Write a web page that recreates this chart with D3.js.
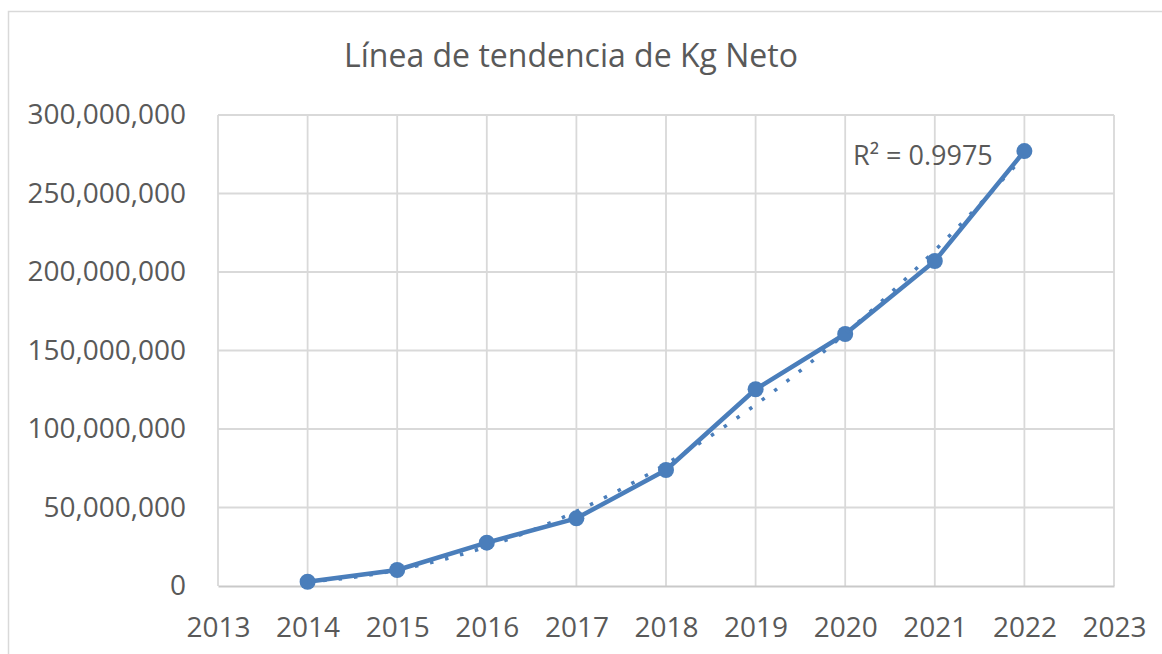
<!DOCTYPE html>
<html>
<head>
<meta charset="utf-8">
<script src="https://cdn.jsdelivr.net/npm/d3@7"></script>
<style>
  html, body { margin: 0; padding: 0; background: #ffffff; }
  svg { display: block; }
  text { font-family: "Open Sans", "Noto Sans", sans-serif; fill: #595959; }
</style>
</head>
<body>
<svg id="chart" width="1162" height="654"></svg>
<script>
// ---- data ----
const years = [2014, 2015, 2016, 2017, 2018, 2019, 2020, 2021, 2022];
const kgNeto = [2700000, 10200000, 27600000, 43100000, 73900000, 125300000, 160500000, 207000000, 277000000];
const yTicks = [0, 50000000, 100000000, 150000000, 200000000, 250000000, 300000000];
const xTicks = [2013, 2014, 2015, 2016, 2017, 2018, 2019, 2020, 2021, 2022, 2023];
const chartTitle = "Línea de tendencia de Kg Neto";
const r2Label = "R² = 0.9975";

// ---- layout ----
const svg = d3.select("#chart");
const blue = "#4a7ebb";
const x = d3.scaleLinear().domain([2013, 2023]).range([218, 1114]);
const y = d3.scaleLinear().domain([0, 300000000]).range([586, 115]);

// outer chart border (extends past the window)
svg.append("rect")
  .attr("x", 8.5).attr("y", 11.5)
  .attr("width", 1200).attr("height", 700)
  .attr("fill", "none").attr("stroke", "#d9d9d9").attr("stroke-width", 1.5);

// title
svg.append("text")
  .attr("x", 571).attr("y", 67)
  .attr("text-anchor", "middle")
  .style("font-size", "32px")
  .text(chartTitle);

// gridlines
const grid = svg.append("g");
grid.selectAll("line.h").data(yTicks.filter(d => d > 0)).join("line")
  .attr("x1", x(2013)).attr("x2", x(2023))
  .attr("y1", d => y(d)).attr("y2", d => y(d))
  .attr("stroke", "#d9d9d9").attr("stroke-width", 1.8);
grid.selectAll("line.v").data(xTicks).join("line")
  .attr("x1", d => x(d)).attr("x2", d => x(d))
  .attr("y1", y(0)).attr("y2", y(300000000))
  .attr("stroke", "#d9d9d9").attr("stroke-width", 1.8);

// x axis (baseline)
const xAxis = svg.append("g").attr("transform", `translate(0,${y(0)})`)
  .call(d3.axisBottom(x).tickValues(xTicks).tickFormat(d3.format("d")).tickSize(0).tickPadding(0));
xAxis.select(".domain").attr("stroke", "#c9c9c9").attr("stroke-width", 2);
xAxis.selectAll("text").attr("dy", null).attr("y", 51)
  .style("font-size", "28px").style("font-family", "'Open Sans', sans-serif").attr("fill", "#595959");

// y axis labels
const yAxis = svg.append("g").attr("transform", `translate(${x(2013)},0)`)
  .call(d3.axisLeft(y).tickValues(yTicks).tickFormat(d3.format(",")).tickSize(0).tickPadding(32));
yAxis.select(".domain").remove();
yAxis.selectAll("text")
  .style("font-size", "28px").style("font-family", "'Open Sans', sans-serif").attr("fill", "#595959");

// series line
const pts = years.map((yr, i) => [yr, kgNeto[i]]);
svg.append("path")
  .datum(pts)
  .attr("fill", "none").attr("stroke", blue).attr("stroke-width", 4.5)
  .attr("stroke-linejoin", "round")
  .attr("d", d3.line().x(d => x(d[0])).y(d => y(d[1])));

// markers
svg.selectAll("circle.m").data(pts).join("circle")
  .attr("cx", d => x(d[0])).attr("cy", d => y(d[1])).attr("r", 8)
  .attr("fill", blue);

// polynomial (order 2) trendline fitted by least squares to the data
function polyFit2(xs, ys) {
  const n = xs.length;
  let s = [0,0,0,0,0], t = [0,0,0];
  for (let i = 0; i < n; i++) {
    const xv = xs[i], yv = ys[i];
    for (let k = 0; k < 5; k++) s[k] += Math.pow(xv, k);
    for (let k = 0; k < 3; k++) t[k] += yv * Math.pow(xv, k);
  }
  const A = [[s[0], s[1], s[2]], [s[1], s[2], s[3]], [s[2], s[3], s[4]]];
  const b = t.slice();
  for (let c = 0; c < 3; c++) {
    for (let r = c + 1; r < 3; r++) {
      const f = A[r][c] / A[c][c];
      for (let k = c; k < 3; k++) A[r][k] -= f * A[c][k];
      b[r] -= f * b[c];
    }
  }
  const coef = [0,0,0];
  for (let r = 2; r >= 0; r--) {
    let v = b[r];
    for (let k = r + 1; k < 3; k++) v -= A[r][k] * coef[k];
    coef[r] = v / A[r][r];
  }
  return coef;
}
const t0 = years[0];
const c = polyFit2(years.map(v => v - t0), kgNeto);
const trend = d3.range(years[0], years[years.length - 1] + 0.001, 0.05)
  .map(v => [v, c[0] + c[1] * (v - t0) + c[2] * (v - t0) * (v - t0)]);
svg.append("path")
  .datum(trend)
  .attr("fill", "none").attr("stroke", blue).attr("stroke-width", 3.5)
  .attr("stroke-dasharray", "3.5,12")
  .attr("d", d3.line().x(d => x(d[0])).y(d => y(d[1])));

// R² label
svg.append("text")
  .attr("x", 853).attr("y", 165)
  .style("font-size", "27px")
  .text(r2Label);
</script>
</body>
</html>
